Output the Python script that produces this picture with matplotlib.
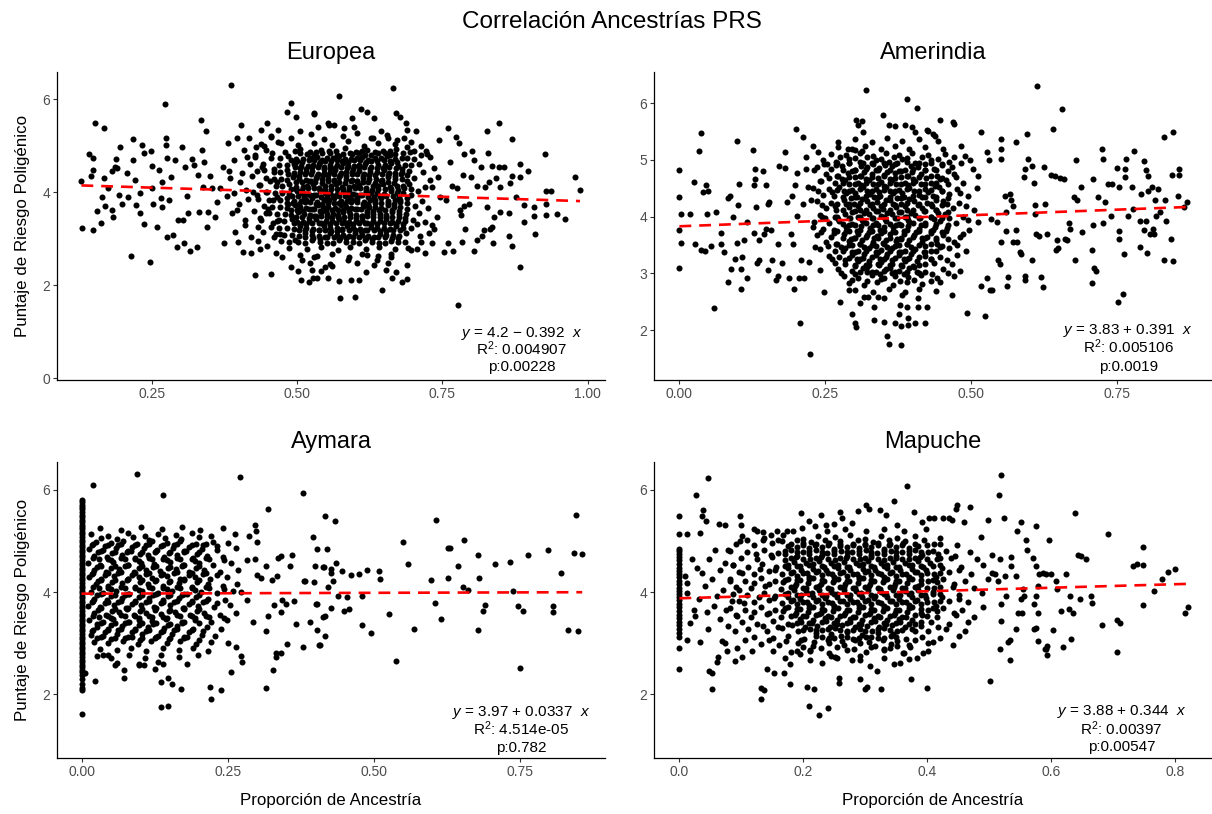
import matplotlib.pyplot as plt
import numpy as np

plt.rcParams['font.family'] = ['Liberation Sans', 'DejaVu Sans']
plt.rcParams['mathtext.fontset'] = 'custom'
plt.rcParams['mathtext.rm'] = 'Liberation Sans'
plt.rcParams['mathtext.it'] = 'Liberation Sans:italic'

# ---- datos ----
titulos = ['Europea', 'Amerindia', 'Aymara', 'Mapuche']
intercepto = [4.2, 3.83, 3.97, 3.88]
pendiente = [-0.392, 0.391, 0.0337, 0.344]
ecuaciones = ['$y$ = 4.2 \u2212 0.392  $x$', '$y$ = 3.83 + 0.391  $x$',
              '$y$ = 3.97 + 0.0337  $x$', '$y$ = 3.88 + 0.344  $x$']
r2_txt = ['0.004907', '0.005106', '4.514e-05', '0.00397']
p_txt = ['0.00228', '0.0019', '0.782', '0.00547']

xticks = [[0.25, 0.5, 0.75, 1.0], [0.0, 0.25, 0.5, 0.75], [0.0, 0.25, 0.5, 0.75], [0.0, 0.2, 0.4, 0.6, 0.8]]
xticklabels = [['0.25', '0.50', '0.75', '1.00'], ['0.00', '0.25', '0.50', '0.75'],
               ['0.00', '0.25', '0.50', '0.75'], ['0.0', '0.2', '0.4', '0.6', '0.8']]
yticks = [[0, 2, 4, 6], [2, 3, 4, 5, 6], [2, 4, 6], [2, 4, 6]]
xlims = [(0.087, 1.030), (-0.0435, 0.912), (-0.042, 0.895), (-0.041, 0.860)]
ylims = [(-0.037, 6.59), (1.12, 6.55), (0.747, 6.554), (0.747, 6.554)]

europea = [
    (0.129, 4.25), (0.130, 3.24), (0.142, 4.83), (0.146, 4.36), (0.149, 4.73), (0.149, 4.48), (0.153, 5.50),
    (0.149, 3.20), (0.156, 3.61), (0.162, 3.35), (0.165, 3.91), (0.168, 5.39), (0.168, 4.30), (0.169, 3.71),
    (0.175, 4.10), (0.181, 4.45), (0.182, 3.62), (0.184, 3.48), (0.186, 4.55), (0.189, 4.71), (0.191, 4.52),
    (0.193, 3.94), (0.196, 4.97), (0.198, 3.76), (0.207, 4.41), (0.210, 3.91), (0.215, 2.63), (0.218, 5.14),
    (0.217, 4.70), (0.221, 4.27), (0.223, 3.73), (0.229, 3.99), (0.229, 3.55), (0.234, 5.02), (0.236, 4.84),
    (0.236, 3.33), (0.247, 2.50), (0.248, 4.88), (0.250, 4.57), (0.250, 4.09), (0.252, 3.76), (0.259, 3.26),
    (0.263, 4.48), (0.266, 3.87), (0.268, 4.23), (0.268, 3.69), (0.273, 5.90), (0.274, 5.18), (0.274, 5.02),
    (0.276, 4.73), (0.276, 3.04), (0.279, 3.83), (0.283, 4.34), (0.286, 3.08), (0.290, 4.70), (0.293, 2.83),
    (0.296, 3.40), (0.302, 4.98), (0.304, 3.40), (0.305, 2.90), (0.308, 4.55), (0.310, 3.92), (0.313, 3.55),
    (0.316, 2.74), (0.319, 4.71), (0.322, 4.59), (0.328, 2.83), (0.329, 4.37), (0.331, 3.58), (0.335, 5.56),
    (0.336, 4.91), (0.338, 4.11), (0.340, 4.66), (0.344, 5.31), (0.345, 3.26), (0.347, 3.58), (0.350, 4.35),
    (0.354, 4.09), (0.359, 3.48), (0.362, 3.80), (0.368, 4.09), (0.372, 4.55), (0.374, 2.90), (0.380, 3.92),
    (0.382, 5.06), (0.385, 4.30), (0.387, 6.32), (0.388, 3.55), (0.391, 4.70), (0.394, 3.15), (0.397, 5.16),
    (0.398, 2.94), (0.401, 3.76), (0.404, 5.44), (0.405, 4.41), (0.407, 2.72), (0.411, 3.40), (0.414, 4.77),
    (0.417, 5.18), (0.420, 2.69), (0.424, 4.01), (0.428, 2.22), (0.430, 4.98), (0.433, 3.26), (0.436, 2.79),
    (0.438, 5.34), (0.443, 4.48), (0.446, 3.55), (0.449, 5.49), (0.452, 3.83), (0.456, 2.25), (0.457, 4.84),
    (0.460, 3.04), (0.465, 4.23), (0.469, 3.40), (0.472, 5.06), (0.475, 2.61), (0.482, 5.72), (0.484, 3.76),
    (0.489, 5.92), (0.489, 2.40), (0.494, 4.62), (0.496, 2.97), (0.498, 5.63), (0.502, 2.31), (0.505, 5.31),
    (0.509, 2.54), (0.521, 2.08), (0.526, 2.33), (0.529, 5.70), (0.534, 2.15), (0.536, 5.41), (0.549, 2.40),
    (0.555, 5.45),
    (0.383, 4.45), (0.392, 3.98), (0.396, 3.62), (0.402, 4.22), (0.408, 4.92), (0.410, 3.30), (0.413, 4.05),
    (0.416, 3.85), (0.419, 4.60), (0.421, 3.05), (0.423, 4.35), (0.426, 3.60), (0.428, 4.80), (0.431, 3.95),
    (0.433, 2.95), (0.435, 4.15), (0.437, 3.45), (0.439, 4.55), (0.441, 3.15), (0.444, 5.00), (0.446, 4.00),
    (0.448, 2.85), (0.450, 3.65), (0.453, 4.25), (0.456, 5.20), (0.458, 3.35), (0.461, 4.50), (0.463, 2.70),
    (0.466, 3.90), (0.468, 5.35), (0.470, 3.10),
    (0.573, 6.08), (0.666, 6.24), (0.610, 5.79), (0.621, 5.72), (0.595, 5.59), (0.633, 5.59), (0.670, 5.70),
    (0.678, 5.63), (0.687, 5.50), (0.690, 5.34), (0.704, 5.33), (0.759, 5.39), (0.847, 5.49), (0.827, 5.33),
    (0.773, 5.20), (0.744, 5.13), (0.779, 5.06), (0.801, 4.88), (0.787, 4.82), (0.828, 4.84), (0.870, 5.15),
    (0.926, 4.83), (0.816, 4.54), (0.836, 4.57), (0.847, 4.55), (0.856, 4.55), (0.883, 4.61), (0.804, 4.70),
    (0.764, 4.66), (0.786, 4.37), (0.799, 4.34), (0.831, 4.23), (0.843, 4.30), (0.870, 4.35), (0.884, 4.34),
    (0.898, 4.45), (0.979, 4.34), (0.987, 4.05), (0.929, 4.04), (0.937, 4.04), (0.824, 4.12), (0.810, 4.14),
    (0.775, 4.09), (0.767, 4.14), (0.850, 4.12), (0.866, 4.21), (0.876, 3.91), (0.890, 3.73), (0.907, 3.69),
    (0.929, 3.76), (0.947, 3.53), (0.962, 3.42), (0.928, 3.51), (0.907, 3.49), (0.891, 3.36), (0.864, 3.55),
    (0.850, 3.58), (0.839, 3.48), (0.827, 3.69), (0.787, 3.71), (0.780, 3.62), (0.783, 3.51), (0.756, 3.83),
    (0.746, 3.91), (0.796, 3.76), (0.910, 3.10), (0.864, 3.07), (0.819, 3.06), (0.832, 3.22), (0.836, 3.26),
    (0.822, 3.19), (0.789, 3.22), (0.759, 2.92), (0.784, 2.94), (0.804, 2.74), (0.838, 2.90), (0.870, 2.84),
    (0.810, 2.97), (0.753, 2.72), (0.769, 2.74), (0.721, 2.69), (0.884, 2.40), (0.777, 1.57), (0.736, 3.22),
    (0.733, 2.90),
    (0.574, 1.73), (0.600, 1.75), (0.647, 1.90), (0.527, 2.15), (0.507, 2.11), (0.553, 2.15), (0.593, 2.11),
    (0.607, 2.11), (0.573, 2.09), (0.664, 2.15), (0.681, 2.08), (0.690, 2.13), (0.670, 2.29), (0.638, 2.54),
    (0.587, 2.54), (0.561, 2.41), (0.530, 2.61), (0.696, 2.76), (0.706, 2.79), (0.690, 2.43), (0.656, 2.47),
    (0.621, 2.65), (0.661, 2.61),
    (0.530, 5.69), (0.553, 5.49), (0.564, 5.45), (0.581, 5.38), (0.598, 5.41), (0.644, 5.31), (0.656, 5.16),
    (0.627, 5.16), (0.672, 5.13), (0.690, 4.98), (0.701, 4.88), (0.713, 4.80), (0.724, 4.82), (0.736, 4.52),
    (0.742, 4.34), (0.733, 4.12), (0.741, 3.48), (0.733, 3.30), (0.727, 3.12), (0.713, 2.94), (0.707, 3.33),
    # nucleo denso
    (0.455, 5.22), (0.490, 5.17), (0.524, 5.25), (0.546, 5.15), (0.579, 5.21), (0.603, 5.27), (0.631, 5.18),
    (0.655, 5.23), (0.684, 5.16),
    (0.438, 5.04), (0.467, 5.09), (0.502, 5.01), (0.529, 5.07), (0.561, 5.03), (0.587, 5.10), (0.616, 5.00),
    (0.639, 5.06), (0.668, 5.04), (0.697, 5.08), (0.713, 4.99),
    (0.447, 4.92), (0.479, 4.87), (0.506, 4.93), (0.523, 4.86), (0.542, 4.91), (0.567, 4.88), (0.582, 4.95),
    (0.602, 4.86), (0.621, 4.92), (0.648, 4.89), (0.671, 4.93), (0.694, 4.86), (0.722, 4.90),
    (0.428, 4.76), (0.456, 4.73), (0.485, 4.78), (0.511, 4.72), (0.534, 4.77), (0.551, 4.74), (0.572, 4.79),
    (0.593, 4.71), (0.612, 4.76), (0.634, 4.73), (0.655, 4.78), (0.680, 4.74), (0.702, 4.71), (0.729, 4.77),
    (0.441, 4.62), (0.469, 4.58), (0.496, 4.63), (0.519, 4.57), (0.538, 4.61), (0.557, 4.59), (0.579, 4.64),
    (0.598, 4.57), (0.617, 4.62), (0.640, 4.58), (0.662, 4.63), (0.685, 4.59), (0.710, 4.61),
    (0.432, 4.46), (0.460, 4.43), (0.482, 4.48), (0.506, 4.44), (0.525, 4.47), (0.547, 4.42), (0.566, 4.48),
    (0.584, 4.43), (0.607, 4.47), (0.625, 4.44), (0.649, 4.48), (0.668, 4.42), (0.693, 4.46), (0.717, 4.44),
    (0.446, 4.31), (0.473, 4.28), (0.493, 4.33), (0.515, 4.27), (0.533, 4.32), (0.554, 4.29), (0.573, 4.34),
    (0.594, 4.27), (0.613, 4.31), (0.636, 4.28), (0.656, 4.33), (0.680, 4.29), (0.702, 4.31), (0.728, 4.27),
    (0.437, 4.16), (0.463, 4.13), (0.487, 4.18), (0.510, 4.12), (0.527, 4.17), (0.549, 4.14), (0.567, 4.18),
    (0.589, 4.12), (0.607, 4.16), (0.630, 4.13), (0.648, 4.18), (0.672, 4.14), (0.693, 4.17), (0.720, 4.12),
    (0.449, 4.01), (0.475, 3.98), (0.500, 4.03), (0.518, 3.97), (0.540, 4.02), (0.557, 3.99), (0.579, 4.03),
    (0.597, 3.97), (0.619, 4.01), (0.638, 3.98), (0.662, 4.03), (0.683, 3.99), (0.709, 4.02),
    (0.433, 3.86), (0.459, 3.83), (0.483, 3.88), (0.507, 3.82), (0.525, 3.87), (0.546, 3.84), (0.564, 3.88),
    (0.586, 3.82), (0.604, 3.86), (0.626, 3.83), (0.645, 3.87), (0.668, 3.84), (0.689, 3.88), (0.715, 3.82),
    (0.444, 3.71), (0.470, 3.68), (0.497, 3.73), (0.515, 3.67), (0.536, 3.72), (0.554, 3.69), (0.576, 3.73),
    (0.593, 3.67), (0.615, 3.71), (0.634, 3.68), (0.657, 3.73), (0.677, 3.69), (0.703, 3.71), (0.725, 3.67),
    (0.452, 3.56), (0.480, 3.53), (0.501, 3.58), (0.523, 3.52), (0.541, 3.57), (0.562, 3.54), (0.580, 3.58),
    (0.602, 3.52), (0.620, 3.56), (0.643, 3.53), (0.663, 3.58), (0.688, 3.54), (0.710, 3.56),
    (0.438, 3.41), (0.465, 3.38), (0.491, 3.43), (0.510, 3.37), (0.532, 3.42), (0.550, 3.39), (0.572, 3.43),
    (0.590, 3.37), (0.612, 3.41), (0.631, 3.38), (0.654, 3.43), (0.674, 3.39), (0.699, 3.41), (0.721, 3.37),
    (0.455, 3.26), (0.483, 3.23), (0.505, 3.28), (0.528, 3.22), (0.546, 3.27), (0.568, 3.24), (0.586, 3.28),
    (0.608, 3.22), (0.627, 3.26), (0.650, 3.23), (0.670, 3.28), (0.696, 3.24),
    (0.463, 3.11), (0.492, 3.08), (0.514, 3.13), (0.538, 3.07), (0.557, 3.12), (0.580, 3.09), (0.599, 3.13),
    (0.622, 3.07), (0.642, 3.11), (0.666, 3.08), (0.687, 3.12), (0.711, 3.06),
    (0.472, 2.96), (0.502, 2.93), (0.526, 2.98), (0.552, 2.92), (0.573, 2.97), (0.597, 2.94), (0.617, 2.98),
    (0.641, 2.92), (0.662, 2.96), (0.686, 2.93),
    (0.486, 2.81), (0.517, 2.78), (0.542, 2.83), (0.570, 2.77), (0.592, 2.82), (0.618, 2.79), (0.641, 2.83),
    (0.668, 2.78), (0.691, 2.81),
    (0.505, 2.66), (0.535, 2.63), (0.561, 2.68), (0.589, 2.62), (0.612, 2.67), (0.639, 2.64), (0.661, 2.68),
    (0.522, 2.49), (0.557, 2.46), (0.603, 2.47), (0.632, 2.44), (0.541, 2.31), (0.618, 2.28), (0.653, 2.33),
    (0.505, 4.84), (0.530, 4.81), (0.556, 4.85), (0.580, 4.82), (0.607, 4.84), (0.628, 4.81), (0.652, 4.85),
    (0.668, 4.82),
    (0.490, 4.69), (0.509, 4.66), (0.530, 4.70), (0.548, 4.67), (0.568, 4.69), (0.588, 4.66), (0.608, 4.70),
    (0.628, 4.67), (0.649, 4.69), (0.672, 4.66),
    (0.496, 4.54), (0.516, 4.51), (0.536, 4.55), (0.556, 4.52), (0.576, 4.54), (0.596, 4.51), (0.616, 4.55),
    (0.637, 4.52), (0.659, 4.54), (0.681, 4.51),
    (0.484, 4.39), (0.504, 4.36), (0.524, 4.40), (0.544, 4.37), (0.564, 4.39), (0.584, 4.36), (0.604, 4.40),
    (0.624, 4.37), (0.646, 4.39), (0.668, 4.36), (0.690, 4.38),
    (0.498, 4.22), (0.520, 4.25), (0.543, 4.21), (0.563, 4.24), (0.583, 4.21), (0.603, 4.25), (0.623, 4.22),
    (0.645, 4.24), (0.667, 4.21),
    (0.489, 4.08), (0.509, 4.05), (0.529, 4.09), (0.549, 4.06), (0.569, 4.08), (0.589, 4.05), (0.609, 4.09),
    (0.629, 4.06), (0.651, 4.08), (0.673, 4.05), (0.696, 4.08),
    (0.492, 3.93), (0.512, 3.90), (0.532, 3.94), (0.552, 3.91), (0.572, 3.93), (0.592, 3.90), (0.612, 3.94),
    (0.632, 3.91), (0.654, 3.93), (0.676, 3.90),
    (0.483, 3.78), (0.503, 3.75), (0.523, 3.79), (0.543, 3.76), (0.563, 3.78), (0.583, 3.75), (0.603, 3.79),
    (0.623, 3.76), (0.645, 3.78), (0.667, 3.75), (0.690, 3.78),
    (0.490, 3.63), (0.510, 3.60), (0.530, 3.64), (0.550, 3.61), (0.570, 3.63), (0.590, 3.60), (0.610, 3.64),
    (0.630, 3.61), (0.652, 3.63), (0.675, 3.60),
    (0.498, 3.48), (0.520, 3.45), (0.541, 3.49), (0.561, 3.46), (0.581, 3.48), (0.601, 3.45), (0.621, 3.49),
    (0.642, 3.46), (0.664, 3.48), (0.686, 3.45),
    (0.494, 3.34), (0.516, 3.31), (0.537, 3.35), (0.557, 3.32), (0.577, 3.34), (0.597, 3.31), (0.617, 3.35),
    (0.638, 3.32), (0.660, 3.34), (0.683, 3.31),
    (0.503, 3.19), (0.526, 3.16), (0.548, 3.20), (0.568, 3.17), (0.589, 3.19), (0.610, 3.16), (0.632, 3.20),
    (0.654, 3.17), (0.677, 3.19),
    (0.514, 3.03), (0.540, 3.00), (0.563, 3.04), (0.585, 3.01), (0.607, 3.03), (0.629, 3.00), (0.652, 3.04),
    (0.674, 3.01),
]

europea_extra = [
    (0.497, 4.88), (0.532, 4.86), (0.555, 4.89), (0.592, 4.85), (0.612, 4.88), (0.635, 4.86), (0.660, 4.89),
    (0.683, 4.85),
    (0.470, 4.73), (0.498, 4.71), (0.522, 4.74), (0.543, 4.70), (0.562, 4.73), (0.583, 4.71), (0.603, 4.74),
    (0.623, 4.70), (0.645, 4.73), (0.668, 4.71), (0.690, 4.74),
    (0.483, 4.58), (0.507, 4.56), (0.528, 4.59), (0.547, 4.55), (0.568, 4.58), (0.588, 4.56), (0.607, 4.59),
    (0.628, 4.55), (0.651, 4.58), (0.673, 4.56), (0.697, 4.59),
    (0.471, 4.43), (0.494, 4.41), (0.515, 4.44), (0.536, 4.40), (0.556, 4.43), (0.575, 4.41), (0.595, 4.44),
    (0.616, 4.40), (0.637, 4.43), (0.658, 4.41), (0.680, 4.44),
    (0.460, 4.28), (0.483, 4.26), (0.504, 4.29), (0.524, 4.25), (0.543, 4.28), (0.563, 4.26), (0.584, 4.29),
    (0.603, 4.25), (0.624, 4.28), (0.646, 4.26), (0.668, 4.29), (0.690, 4.25),
    (0.475, 4.13), (0.498, 4.11), (0.518, 4.14), (0.538, 4.10), (0.558, 4.13), (0.578, 4.11), (0.598, 4.14),
    (0.618, 4.10), (0.639, 4.13), (0.660, 4.11), (0.682, 4.14),
    (0.462, 3.98), (0.487, 3.96), (0.509, 3.99), (0.529, 3.95), (0.548, 3.98), (0.568, 3.96), (0.588, 3.99),
    (0.608, 3.95), (0.628, 3.98), (0.650, 3.96), (0.672, 3.99), (0.696, 3.95),
    (0.471, 3.83), (0.495, 3.81), (0.516, 3.84), (0.535, 3.80), (0.555, 3.83), (0.575, 3.81), (0.595, 3.84),
    (0.615, 3.80), (0.635, 3.83), (0.656, 3.81), (0.678, 3.84),
    (0.457, 3.68), (0.483, 3.66), (0.506, 3.69), (0.525, 3.65), (0.545, 3.68), (0.565, 3.66), (0.584, 3.69),
    (0.604, 3.65), (0.624, 3.68), (0.645, 3.66), (0.667, 3.69), (0.690, 3.65),
    (0.466, 3.53), (0.490, 3.51), (0.512, 3.54), (0.532, 3.50), (0.551, 3.53), (0.571, 3.51), (0.591, 3.54),
    (0.611, 3.50), (0.631, 3.53), (0.653, 3.51), (0.675, 3.54),
    (0.478, 3.38), (0.500, 3.36), (0.521, 3.39), (0.541, 3.35), (0.561, 3.38), (0.581, 3.36), (0.601, 3.39),
    (0.621, 3.35), (0.642, 3.38), (0.664, 3.36), (0.686, 3.39),
    (0.469, 3.23), (0.494, 3.21), (0.516, 3.24), (0.537, 3.20), (0.557, 3.23), (0.577, 3.21), (0.597, 3.24),
    (0.617, 3.20), (0.638, 3.23), (0.660, 3.21), (0.683, 3.24),
    (0.478, 3.08), (0.503, 3.06), (0.526, 3.09), (0.548, 3.05), (0.569, 3.08), (0.590, 3.06), (0.611, 3.09),
    (0.632, 3.05), (0.654, 3.08), (0.676, 3.06),
    (0.487, 2.93), (0.514, 2.91), (0.539, 2.94), (0.562, 2.90), (0.585, 2.93), (0.607, 2.91), (0.629, 2.94),
    (0.652, 2.90), (0.674, 2.93),
]

europea_centro = [
    (0.518, 4.82), (0.543, 4.84), (0.568, 4.81), (0.594, 4.83), (0.617, 4.81), (0.640, 4.84), (0.660, 4.81),
    (0.500, 4.67), (0.520, 4.69), (0.539, 4.66), (0.558, 4.68), (0.578, 4.67), (0.598, 4.69), (0.618, 4.66),
    (0.638, 4.68), (0.660, 4.67),
    (0.506, 4.52), (0.526, 4.54), (0.546, 4.51), (0.566, 4.53), (0.586, 4.52), (0.606, 4.54), (0.626, 4.51),
    (0.648, 4.53), (0.670, 4.52),
    (0.494, 4.37), (0.514, 4.39), (0.534, 4.36), (0.554, 4.38), (0.574, 4.37), (0.594, 4.39), (0.614, 4.36),
    (0.635, 4.38), (0.657, 4.37), (0.679, 4.39),
    (0.509, 4.23), (0.531, 4.22), (0.553, 4.24), (0.573, 4.22), (0.593, 4.24), (0.613, 4.23), (0.634, 4.21),
    (0.656, 4.23),
    (0.499, 4.07), (0.519, 4.09), (0.539, 4.06), (0.559, 4.08), (0.579, 4.07), (0.599, 4.09), (0.619, 4.06),
    (0.640, 4.08), (0.662, 4.07), (0.684, 4.09),
    (0.502, 3.92), (0.522, 3.94), (0.542, 3.91), (0.562, 3.93), (0.582, 3.92), (0.602, 3.94), (0.622, 3.91),
    (0.643, 3.93), (0.665, 3.92),
    (0.493, 3.77), (0.513, 3.79), (0.533, 3.76), (0.553, 3.78), (0.573, 3.77), (0.593, 3.79), (0.613, 3.76),
    (0.634, 3.78), (0.656, 3.77), (0.678, 3.79),
    (0.500, 3.62), (0.520, 3.64), (0.540, 3.61), (0.560, 3.63), (0.580, 3.62), (0.600, 3.64), (0.620, 3.61),
    (0.641, 3.63), (0.663, 3.62),
    (0.509, 3.47), (0.530, 3.49), (0.551, 3.46), (0.571, 3.48), (0.591, 3.47), (0.611, 3.49), (0.631, 3.46),
    (0.653, 3.48), (0.675, 3.47),
    (0.505, 3.33), (0.526, 3.35), (0.547, 3.32), (0.567, 3.34), (0.587, 3.33), (0.607, 3.35), (0.627, 3.32),
    (0.649, 3.34), (0.671, 3.33),
    (0.514, 3.18), (0.537, 3.20), (0.558, 3.17), (0.578, 3.19), (0.599, 3.18), (0.621, 3.20), (0.643, 3.17),
    (0.665, 3.19),
    (0.527, 3.02), (0.551, 3.04), (0.574, 3.01), (0.596, 3.03), (0.618, 3.02), (0.640, 3.04), (0.663, 3.01),
]

amerindia = [
    (0.000, 4.83), (0.000, 4.35), (0.002, 4.05), (0.000, 3.76), (0.002, 3.54), (0.000, 3.09), (0.018, 4.04),
    (0.025, 4.61), (0.027, 3.51), (0.033, 5.16), (0.037, 5.48), (0.037, 3.42), (0.041, 4.43), (0.044, 3.39),
    (0.045, 4.56), (0.047, 4.04), (0.049, 4.45), (0.054, 3.48), (0.059, 2.39), (0.063, 4.09), (0.071, 3.72),
    (0.072, 3.51), (0.076, 3.37), (0.083, 4.33), (0.084, 2.85), (0.087, 4.36), (0.088, 3.07), (0.091, 3.99),
    (0.096, 3.25), (0.099, 5.33), (0.099, 3.54), (0.101, 4.20), (0.102, 4.57), (0.105, 2.73), (0.105, 3.07),
    (0.107, 3.29), (0.111, 3.58), (0.116, 3.90), (0.116, 2.92), (0.126, 5.18), (0.128, 3.71), (0.130, 4.84),
    (0.130, 4.67), (0.128, 4.55), (0.132, 4.17), (0.133, 3.18), (0.136, 3.23), (0.136, 3.58), (0.143, 4.80),
    (0.145, 3.69), (0.148, 4.55), (0.148, 3.79), (0.151, 3.06), (0.152, 4.22), (0.153, 4.26), (0.156, 3.76),
    (0.159, 3.23), (0.165, 2.88), (0.168, 2.95), (0.170, 4.89), (0.169, 3.52), (0.176, 3.18), (0.180, 5.14),
    (0.181, 4.86), (0.185, 4.26), (0.188, 2.92), (0.191, 3.70), (0.192, 4.36), (0.194, 3.52), (0.197, 2.73),
    (0.198, 4.55), (0.199, 5.55), (0.201, 4.77), (0.202, 4.02), (0.204, 2.92), (0.207, 2.13), (0.208, 3.23),
    (0.211, 5.40), (0.212, 4.22), (0.214, 2.91), (0.216, 4.84), (0.217, 5.05), (0.220, 4.52), (0.222, 3.20),
    (0.224, 1.58), (0.225, 4.29), (0.228, 5.24), (0.229, 3.82), (0.231, 4.83), (0.233, 3.47), (0.237, 5.14),
    (0.240, 3.06), (0.243, 4.63), (0.245, 3.99), (0.248, 2.67), (0.252, 4.92),
    (0.612, 6.31), (0.655, 5.90), (0.639, 5.55), (0.595, 5.45), (0.577, 5.31), (0.551, 5.37), (0.516, 5.49),
    (0.550, 5.20), (0.550, 5.02), (0.527, 5.14), (0.530, 4.99), (0.723, 5.20), (0.726, 5.01), (0.679, 4.99),
    (0.779, 5.15), (0.830, 5.40), (0.846, 5.50), (0.856, 4.84), (0.855, 4.73), (0.843, 4.74), (0.765, 5.01),
    (0.763, 4.84), (0.763, 4.70), (0.749, 4.86), (0.796, 4.98), (0.799, 4.82), (0.803, 4.71), (0.597, 5.01),
    (0.591, 4.84), (0.603, 4.90), (0.625, 4.87), (0.637, 4.73), (0.644, 4.71), (0.651, 4.69), (0.658, 4.66),
    (0.608, 4.60), (0.590, 4.70), (0.709, 4.67), (0.688, 4.53), (0.734, 4.57), (0.740, 4.58), (0.752, 4.53),
    (0.775, 4.53), (0.791, 4.40), (0.802, 4.46), (0.810, 4.52), (0.819, 4.49), (0.815, 4.30), (0.831, 4.30),
    (0.853, 4.36), (0.869, 4.25), (0.864, 4.17), (0.823, 4.08), (0.816, 4.02), (0.833, 3.92), (0.811, 3.79),
    (0.805, 3.70), (0.813, 3.70), (0.841, 3.61), (0.830, 3.24), (0.846, 3.21), (0.801, 3.36), (0.788, 3.47),
    (0.795, 3.77), (0.789, 3.92), (0.799, 3.92), (0.777, 4.14), (0.768, 4.02), (0.753, 3.75), (0.753, 3.61),
    (0.762, 3.34), (0.739, 4.01), (0.728, 4.26), (0.726, 3.88), (0.717, 4.35), (0.708, 3.85), (0.706, 3.42),
    (0.710, 3.10), (0.714, 3.04), (0.707, 2.83), (0.751, 2.50), (0.759, 2.63), (0.690, 3.73), (0.677, 3.24),
    (0.681, 4.29), (0.675, 4.35), (0.669, 3.79), (0.663, 3.58), (0.645, 3.42), (0.649, 3.44), (0.660, 3.60),
    (0.667, 3.89), (0.646, 3.58), (0.626, 4.22), (0.629, 3.70), (0.615, 3.65), (0.611, 3.69), (0.619, 2.93),
    (0.623, 2.76), (0.609, 4.20), (0.609, 4.05), (0.603, 3.24), (0.591, 2.95), (0.591, 2.88), (0.584, 3.38),
    (0.585, 3.34), (0.578, 3.55), (0.577, 3.76), (0.571, 3.55), (0.566, 4.40), (0.568, 4.29), (0.572, 4.18),
    (0.558, 4.36), (0.560, 4.08), (0.560, 3.75), (0.562, 2.94), (0.561, 2.77), (0.550, 3.55), (0.549, 3.17),
    (0.545, 3.24), (0.543, 3.91), (0.534, 3.95), (0.536, 2.70), (0.532, 2.70), (0.523, 2.25), (0.492, 2.30),
    (0.466, 2.62), (0.516, 2.77), (0.527, 2.91),
    (0.300, 2.12), (0.303, 2.06), (0.295, 2.28), (0.334, 2.18), (0.351, 2.15), (0.356, 1.89), (0.359, 1.75),
    (0.379, 1.74), (0.369, 2.12), (0.379, 2.07), (0.392, 2.21), (0.404, 2.12), (0.420, 2.13), (0.392, 2.09),
    (0.389, 2.41), (0.409, 2.40), (0.424, 2.41), (0.377, 2.44), (0.376, 2.29), (0.334, 2.41), (0.309, 2.47),
    (0.291, 2.70), (0.275, 2.49), (0.340, 2.59), (0.323, 2.59),
    (0.320, 6.23), (0.389, 6.08), (0.406, 5.92), (0.348, 5.79), (0.359, 5.61), (0.369, 5.59), (0.303, 5.71),
    (0.313, 5.68), (0.306, 5.61), (0.314, 5.49), (0.272, 5.31), (0.289, 5.20), (0.300, 5.17), (0.312, 5.16),
    (0.386, 5.61), (0.398, 5.58), (0.404, 5.49), (0.424, 5.52), (0.435, 5.46), (0.447, 5.71), (0.469, 5.67),
    (0.470, 5.63), (0.425, 5.51), (0.438, 5.43),
    # nucleo denso
    (0.301, 5.36), (0.329, 5.32), (0.356, 5.38), (0.382, 5.33), (0.410, 5.37), (0.443, 5.34),
    (0.271, 5.23), (0.296, 5.19), (0.318, 5.25), (0.346, 5.20), (0.369, 5.24), (0.394, 5.19), (0.421, 5.23),
    (0.451, 5.20), (0.482, 5.24),
    (0.259, 5.11), (0.286, 5.08), (0.309, 5.13), (0.331, 5.07), (0.354, 5.12), (0.376, 5.09), (0.399, 5.13),
    (0.426, 5.08), (0.454, 5.11), (0.489, 5.07),
    (0.246, 4.99), (0.268, 4.96), (0.291, 5.01), (0.314, 4.95), (0.336, 5.00), (0.359, 4.97), (0.381, 5.01),
    (0.404, 4.95), (0.431, 4.99), (0.461, 4.96), (0.498, 5.00),
    (0.236, 4.87), (0.259, 4.84), (0.279, 4.89), (0.301, 4.83), (0.321, 4.88), (0.341, 4.85), (0.364, 4.89),
    (0.386, 4.83), (0.409, 4.87), (0.436, 4.84), (0.466, 4.88), (0.503, 4.84),
    (0.251, 4.75), (0.271, 4.72), (0.289, 4.77), (0.311, 4.71), (0.329, 4.76), (0.351, 4.73), (0.369, 4.77),
    (0.391, 4.71), (0.414, 4.75), (0.441, 4.72), (0.471, 4.76), (0.512, 4.72),
    (0.241, 4.63), (0.266, 4.60), (0.284, 4.65), (0.306, 4.59), (0.324, 4.64), (0.346, 4.61), (0.364, 4.65),
    (0.386, 4.59), (0.404, 4.63), (0.431, 4.60), (0.456, 4.64), (0.486, 4.60),
    (0.229, 4.51), (0.256, 4.48), (0.274, 4.53), (0.296, 4.47), (0.314, 4.52), (0.336, 4.49), (0.354, 4.53),
    (0.376, 4.47), (0.394, 4.51), (0.421, 4.48), (0.444, 4.52), (0.476, 4.48), (0.509, 4.51),
    (0.246, 4.39), (0.264, 4.36), (0.286, 4.41), (0.304, 4.35), (0.326, 4.40), (0.344, 4.37), (0.366, 4.41),
    (0.384, 4.35), (0.411, 4.39), (0.434, 4.36), (0.461, 4.40), (0.494, 4.36),
    (0.236, 4.27), (0.259, 4.24), (0.281, 4.29), (0.299, 4.23), (0.321, 4.28), (0.339, 4.25), (0.361, 4.29),
    (0.379, 4.23), (0.401, 4.27), (0.424, 4.24), (0.451, 4.28), (0.479, 4.24),
    (0.251, 4.15), (0.269, 4.12), (0.291, 4.17), (0.309, 4.11), (0.331, 4.16), (0.349, 4.13), (0.371, 4.17),
    (0.389, 4.11), (0.416, 4.15), (0.439, 4.12), (0.469, 4.16), (0.504, 4.12),
    (0.241, 4.03), (0.266, 4.00), (0.284, 4.05), (0.306, 3.99), (0.324, 4.04), (0.346, 4.01), (0.364, 4.05),
    (0.386, 3.99), (0.404, 4.03), (0.431, 4.00), (0.454, 4.04), (0.486, 4.00),
    (0.231, 3.91), (0.256, 3.88), (0.274, 3.93), (0.296, 3.87), (0.314, 3.92), (0.336, 3.89), (0.354, 3.93),
    (0.376, 3.87), (0.394, 3.91), (0.421, 3.88), (0.446, 3.92), (0.474, 3.88), (0.511, 3.91),
    (0.246, 3.79), (0.264, 3.76), (0.286, 3.81), (0.304, 3.75), (0.326, 3.80), (0.344, 3.77), (0.366, 3.81),
    (0.384, 3.75), (0.411, 3.79), (0.434, 3.76), (0.459, 3.80), (0.496, 3.76),
    (0.236, 3.67), (0.259, 3.64), (0.281, 3.69), (0.299, 3.63), (0.321, 3.68), (0.339, 3.65), (0.361, 3.69),
    (0.379, 3.63), (0.401, 3.67), (0.424, 3.64), (0.451, 3.68), (0.481, 3.64),
    (0.251, 3.55), (0.269, 3.52), (0.291, 3.57), (0.309, 3.51), (0.331, 3.56), (0.349, 3.53), (0.371, 3.57),
    (0.389, 3.51), (0.416, 3.55), (0.441, 3.52), (0.471, 3.56),
    (0.241, 3.43), (0.266, 3.40), (0.284, 3.45), (0.306, 3.39), (0.324, 3.44), (0.346, 3.41), (0.364, 3.45),
    (0.386, 3.39), (0.404, 3.43), (0.431, 3.40), (0.461, 3.44), (0.491, 3.40),
    (0.256, 3.31), (0.274, 3.28), (0.296, 3.33), (0.314, 3.27), (0.336, 3.32), (0.354, 3.29), (0.376, 3.33),
    (0.394, 3.27), (0.421, 3.31), (0.446, 3.28), (0.476, 3.32),
    (0.266, 3.19), (0.284, 3.16), (0.306, 3.21), (0.324, 3.15), (0.346, 3.20), (0.364, 3.17), (0.386, 3.21),
    (0.411, 3.15), (0.436, 3.19), (0.466, 3.16),
    (0.271, 3.07), (0.296, 3.04), (0.314, 3.09), (0.336, 3.03), (0.354, 3.08), (0.376, 3.05), (0.394, 3.09),
    (0.421, 3.03), (0.451, 3.07), (0.481, 3.04),
    (0.281, 2.95), (0.306, 2.92), (0.329, 2.97), (0.351, 2.91), (0.369, 2.96), (0.391, 2.93), (0.414, 2.97),
    (0.441, 2.91), (0.471, 2.95),
    (0.291, 2.83), (0.316, 2.80), (0.339, 2.85), (0.366, 2.79), (0.389, 2.84), (0.416, 2.81), (0.446, 2.85),
    (0.301, 2.71), (0.331, 2.68), (0.359, 2.73), (0.386, 2.67), (0.411, 2.72), (0.439, 2.69),
    (0.316, 2.59), (0.351, 2.56), (0.381, 2.61), (0.409, 2.57),
    (0.296, 4.81), (0.316, 4.79), (0.336, 4.82), (0.356, 4.78), (0.376, 4.81), (0.398, 4.79), (0.420, 4.82),
    (0.291, 4.57), (0.311, 4.55), (0.331, 4.58), (0.351, 4.54), (0.371, 4.57), (0.391, 4.55), (0.413, 4.58),
    (0.437, 4.54),
    (0.293, 4.33), (0.313, 4.31), (0.333, 4.34), (0.353, 4.30), (0.373, 4.33), (0.393, 4.31), (0.415, 4.34),
    (0.439, 4.30),
    (0.296, 4.09), (0.316, 4.07), (0.336, 4.10), (0.356, 4.06), (0.376, 4.09), (0.396, 4.07), (0.418, 4.10),
    (0.442, 4.06),
    (0.291, 3.85), (0.311, 3.83), (0.331, 3.86), (0.351, 3.82), (0.371, 3.85), (0.391, 3.83), (0.413, 3.86),
    (0.437, 3.82),
    (0.293, 3.61), (0.313, 3.59), (0.333, 3.62), (0.353, 3.58), (0.373, 3.61), (0.393, 3.59), (0.415, 3.62),
    (0.439, 3.58),
    (0.296, 3.37), (0.316, 3.35), (0.336, 3.38), (0.356, 3.34), (0.376, 3.37), (0.396, 3.35), (0.418, 3.38),
    (0.301, 3.13), (0.321, 3.11), (0.341, 3.14), (0.361, 3.10), (0.381, 3.13), (0.401, 3.11),
]

amerindia_extra = [
    (0.275, 5.05), (0.300, 5.03), (0.322, 5.06), (0.345, 5.02), (0.368, 5.05), (0.390, 5.03), (0.415, 5.06),
    (0.442, 5.02), (0.470, 5.05),
    (0.248, 4.93), (0.269, 4.91), (0.290, 4.94), (0.311, 4.90), (0.331, 4.93), (0.352, 4.91), (0.373, 4.94),
    (0.396, 4.90), (0.420, 4.93), (0.450, 4.91), (0.482, 4.94),
    (0.256, 4.69), (0.279, 4.67), (0.300, 4.70), (0.320, 4.66), (0.340, 4.69), (0.360, 4.67), (0.380, 4.70),
    (0.400, 4.66), (0.422, 4.69), (0.446, 4.67), (0.474, 4.70),
    (0.238, 4.45), (0.261, 4.43), (0.281, 4.46), (0.301, 4.42), (0.321, 4.45), (0.341, 4.43), (0.361, 4.46),
    (0.381, 4.42), (0.402, 4.45), (0.425, 4.43), (0.450, 4.46), (0.480, 4.42),
    (0.244, 4.21), (0.266, 4.19), (0.286, 4.22), (0.306, 4.18), (0.326, 4.21), (0.346, 4.19), (0.366, 4.22),
    (0.386, 4.18), (0.408, 4.21), (0.432, 4.19), (0.458, 4.22), (0.490, 4.18),
    (0.250, 3.97), (0.272, 3.95), (0.292, 3.98), (0.312, 3.94), (0.332, 3.97), (0.352, 3.95), (0.372, 3.98),
    (0.392, 3.94), (0.412, 3.97), (0.436, 3.95), (0.462, 3.98), (0.495, 3.94),
    (0.242, 3.73), (0.265, 3.71), (0.285, 3.74), (0.305, 3.70), (0.325, 3.73), (0.345, 3.71), (0.365, 3.74),
    (0.385, 3.70), (0.405, 3.73), (0.430, 3.71), (0.456, 3.74), (0.486, 3.70),
    (0.255, 3.49), (0.276, 3.47), (0.296, 3.50), (0.316, 3.46), (0.336, 3.49), (0.356, 3.47), (0.376, 3.50),
    (0.396, 3.46), (0.420, 3.49), (0.446, 3.47), (0.476, 3.50),
    (0.262, 3.25), (0.284, 3.23), (0.304, 3.26), (0.324, 3.22), (0.344, 3.25), (0.364, 3.23), (0.384, 3.26),
    (0.406, 3.22), (0.430, 3.25), (0.458, 3.23),
    (0.276, 3.01), (0.300, 2.99), (0.322, 3.02), (0.344, 2.98), (0.364, 3.01), (0.384, 2.99), (0.406, 3.02),
    (0.432, 2.98), (0.460, 3.01),
    (0.296, 2.89), (0.322, 2.87), (0.346, 2.90), (0.378, 2.86), (0.402, 2.89), (0.430, 2.87),
]

amerindia_centro = [
    (0.270, 4.95), (0.290, 4.94), (0.310, 4.96), (0.330, 4.94), (0.350, 4.95), (0.370, 4.93), (0.390, 4.96),
    (0.410, 4.94), (0.430, 4.95), (0.450, 4.93),
    (0.280, 4.83), (0.300, 4.82), (0.320, 4.84), (0.340, 4.82), (0.360, 4.83), (0.380, 4.81), (0.400, 4.84),
    (0.420, 4.82), (0.440, 4.83), (0.460, 4.81),
    (0.270, 4.71), (0.290, 4.70), (0.310, 4.72), (0.330, 4.70), (0.350, 4.71), (0.370, 4.69), (0.390, 4.72),
    (0.410, 4.70), (0.430, 4.71), (0.450, 4.69),
    (0.280, 4.59), (0.300, 4.58), (0.320, 4.60), (0.340, 4.58), (0.360, 4.59), (0.380, 4.57), (0.400, 4.60),
    (0.420, 4.58), (0.440, 4.59), (0.460, 4.57),
    (0.270, 4.47), (0.290, 4.46), (0.310, 4.48), (0.330, 4.46), (0.350, 4.47), (0.370, 4.45), (0.390, 4.48),
    (0.410, 4.46), (0.430, 4.47), (0.450, 4.45),
    (0.280, 4.35), (0.300, 4.34), (0.320, 4.36), (0.340, 4.34), (0.360, 4.35), (0.380, 4.33), (0.400, 4.36),
    (0.420, 4.34), (0.440, 4.35), (0.460, 4.33),
    (0.270, 4.23), (0.290, 4.22), (0.310, 4.24), (0.330, 4.22), (0.350, 4.23), (0.370, 4.21), (0.390, 4.24),
    (0.410, 4.22), (0.430, 4.23), (0.450, 4.21),
    (0.280, 4.11), (0.300, 4.10), (0.320, 4.12), (0.340, 4.10), (0.360, 4.11), (0.380, 4.09), (0.400, 4.12),
    (0.420, 4.10), (0.440, 4.11), (0.460, 4.09),
    (0.270, 3.99), (0.290, 3.98), (0.310, 4.00), (0.330, 3.98), (0.350, 3.99), (0.370, 3.97), (0.390, 4.00),
    (0.410, 3.98), (0.430, 3.99), (0.450, 3.97),
    (0.280, 3.87), (0.300, 3.86), (0.320, 3.88), (0.340, 3.86), (0.360, 3.87), (0.380, 3.85), (0.400, 3.88),
    (0.420, 3.86), (0.440, 3.87), (0.460, 3.85),
    (0.270, 3.75), (0.290, 3.74), (0.310, 3.76), (0.330, 3.74), (0.350, 3.75), (0.370, 3.73), (0.390, 3.76),
    (0.410, 3.74), (0.430, 3.75), (0.450, 3.73),
    (0.280, 3.63), (0.300, 3.62), (0.320, 3.64), (0.340, 3.62), (0.360, 3.63), (0.380, 3.61), (0.400, 3.64),
    (0.420, 3.62), (0.440, 3.63), (0.460, 3.61),
    (0.270, 3.51), (0.290, 3.50), (0.310, 3.52), (0.330, 3.50), (0.350, 3.51), (0.370, 3.49), (0.390, 3.52),
    (0.410, 3.50), (0.430, 3.51), (0.450, 3.49),
    (0.280, 3.39), (0.300, 3.38), (0.320, 3.40), (0.340, 3.38), (0.360, 3.39), (0.380, 3.37), (0.400, 3.40),
    (0.420, 3.38), (0.440, 3.39),
    (0.290, 3.27), (0.310, 3.26), (0.330, 3.28), (0.350, 3.26), (0.370, 3.27), (0.390, 3.25), (0.410, 3.28),
    (0.430, 3.26),
    (0.300, 3.15), (0.320, 3.14), (0.340, 3.16), (0.360, 3.14), (0.380, 3.15), (0.400, 3.13), (0.420, 3.16),
    (0.310, 3.03), (0.330, 3.02), (0.350, 3.04), (0.370, 3.02), (0.390, 3.03), (0.410, 3.01),
]

# Aymara: columna de individuos con ancestria 0
aymara_y_en_cero = [
    5.80, 5.76, 5.71, 5.66, 5.62, 5.57, 5.52, 5.47, 5.42, 5.37, 5.32, 5.28, 5.23, 5.18, 5.13, 5.08, 5.03,
    4.98, 4.93, 4.88, 4.83, 4.78, 4.73, 4.68, 4.63, 4.58, 4.53, 4.48, 4.43, 4.38, 4.33, 4.28, 4.23, 4.18,
    4.13, 4.08, 4.03, 3.98, 3.93, 3.88, 3.83, 3.78, 3.73, 3.68, 3.63, 3.58, 3.53, 3.48, 3.43, 3.38, 3.33,
    3.28, 3.23, 3.18, 3.13, 3.08, 3.03, 2.98, 2.93, 2.88, 2.83, 2.78, 2.73, 2.68, 2.63, 2.58, 2.53, 2.48,
    2.43, 2.38, 2.30, 2.21, 2.12, 2.08, 1.61,
]

aymara = [
    (0.006, 2.42), (0.019, 6.09), (0.023, 2.27), (0.094, 6.32), (0.140, 5.91), (0.271, 6.25), (0.378, 5.94),
    (0.416, 5.50), (0.395, 5.08), (0.319, 5.63), (0.399, 4.52), (0.402, 4.85), (0.419, 4.84), (0.415, 4.49),
    (0.380, 4.21), (0.397, 4.20), (0.402, 3.77), (0.416, 3.53), (0.379, 2.92), (0.391, 3.41), (0.402, 3.25),
    (0.408, 2.96), (0.366, 3.38), (0.356, 4.52), (0.359, 4.72), (0.364, 3.82), (0.351, 2.99), (0.341, 2.81),
    (0.332, 2.81), (0.333, 2.73), (0.327, 2.47), (0.315, 2.12), (0.316, 3.23), (0.319, 3.54), (0.329, 3.74),
    (0.343, 3.84), (0.349, 3.77), (0.341, 3.61), (0.335, 4.31), (0.336, 4.67), (0.341, 4.70), (0.326, 4.23),
    (0.316, 4.51), (0.307, 4.27), (0.300, 4.34), (0.296, 4.65), (0.296, 5.31), (0.299, 5.19), (0.300, 4.99),
    (0.287, 5.10), (0.283, 4.62), (0.293, 3.41), (0.283, 3.84), (0.273, 4.00), (0.274, 2.63), (0.272, 2.75),
    (0.264, 2.92), (0.255, 2.43), (0.239, 2.09), (0.221, 1.91), (0.220, 2.14), (0.170, 2.11), (0.155, 2.21),
    (0.147, 2.32), (0.136, 2.24), (0.136, 1.75), (0.147, 1.77), (0.140, 2.60), (0.125, 2.50), (0.107, 2.58),
    (0.098, 2.60), (0.072, 2.32), (0.072, 2.47), (0.057, 2.58), (0.037, 2.77), (0.046, 2.77),
    (0.433, 5.40), (0.435, 4.57), (0.412, 4.49), (0.427, 4.46), (0.427, 4.38), (0.445, 4.42), (0.461, 4.33),
    (0.475, 4.36), (0.488, 4.44), (0.508, 4.42), (0.511, 4.25), (0.382, 4.22), (0.422, 4.10), (0.430, 4.22),
    (0.438, 3.93), (0.454, 3.90), (0.479, 3.93), (0.401, 3.77), (0.427, 3.69), (0.448, 3.63), (0.458, 3.67),
    (0.413, 3.52), (0.479, 3.36), (0.495, 3.20), (0.417, 3.15), (0.406, 2.96), (0.525, 3.58), (0.550, 4.99),
    (0.558, 4.55), (0.568, 3.28), (0.538, 2.65), (0.598, 4.23), (0.606, 5.42), (0.605, 3.79), (0.615, 3.48),
    (0.626, 4.86), (0.630, 4.86), (0.627, 4.27), (0.644, 4.51), (0.654, 5.03), (0.652, 4.10), (0.661, 4.05),
    (0.678, 4.73), (0.680, 4.27), (0.677, 3.26), (0.686, 3.63), (0.689, 3.75), (0.707, 4.55), (0.733, 4.59),
    (0.737, 4.03), (0.747, 3.73), (0.755, 3.63), (0.763, 4.72), (0.749, 2.52), (0.798, 4.82), (0.806, 3.62),
    (0.806, 3.73), (0.820, 4.38), (0.832, 3.25), (0.846, 5.51), (0.842, 4.76), (0.856, 4.74), (0.848, 3.23),
    # nucleo denso
    (0.031, 5.26), (0.068, 5.22), (0.102, 5.28), (0.138, 5.23), (0.171, 5.27), (0.203, 5.21), (0.242, 5.25),
    (0.016, 5.13), (0.046, 5.10), (0.079, 5.15), (0.108, 5.09), (0.131, 5.14), (0.162, 5.11), (0.189, 5.15),
    (0.221, 5.09), (0.262, 5.13),
    (0.024, 4.99), (0.051, 4.96), (0.071, 5.01), (0.094, 4.95), (0.121, 5.00), (0.146, 4.97), (0.169, 5.01),
    (0.196, 4.95), (0.224, 4.99), (0.251, 4.96),
    (0.012, 4.85), (0.036, 4.82), (0.059, 4.87), (0.084, 4.81), (0.106, 4.86), (0.129, 4.83), (0.156, 4.87),
    (0.179, 4.81), (0.206, 4.85), (0.231, 4.82), (0.264, 4.86),
    (0.021, 4.71), (0.044, 4.68), (0.069, 4.73), (0.091, 4.67), (0.114, 4.72), (0.141, 4.69), (0.164, 4.73),
    (0.191, 4.67), (0.214, 4.71), (0.241, 4.68),
    (0.011, 4.57), (0.031, 4.54), (0.054, 4.59), (0.079, 4.53), (0.101, 4.58), (0.124, 4.55), (0.151, 4.59),
    (0.174, 4.53), (0.201, 4.57), (0.224, 4.54), (0.256, 4.58),
    (0.021, 4.43), (0.041, 4.40), (0.064, 4.45), (0.089, 4.39), (0.111, 4.44), (0.134, 4.41), (0.161, 4.45),
    (0.184, 4.39), (0.209, 4.43), (0.236, 4.40), (0.268, 4.44),
    (0.012, 4.29), (0.034, 4.26), (0.056, 4.31), (0.079, 4.25), (0.099, 4.30), (0.121, 4.27), (0.146, 4.31),
    (0.169, 4.25), (0.194, 4.29), (0.219, 4.26), (0.249, 4.30),
    (0.024, 4.15), (0.046, 4.12), (0.069, 4.17), (0.091, 4.11), (0.114, 4.16), (0.139, 4.13), (0.166, 4.17),
    (0.189, 4.11), (0.216, 4.15), (0.241, 4.12), (0.266, 4.16),
    (0.016, 4.01), (0.036, 3.98), (0.059, 4.03), (0.081, 3.97), (0.104, 4.02), (0.131, 3.99), (0.154, 4.03),
    (0.181, 3.97), (0.204, 4.01), (0.231, 3.98), (0.259, 4.02),
    (0.021, 3.87), (0.044, 3.84), (0.069, 3.89), (0.091, 3.83), (0.116, 3.88), (0.139, 3.85), (0.166, 3.89),
    (0.189, 3.83), (0.216, 3.87), (0.246, 3.84),
    (0.011, 3.73), (0.031, 3.70), (0.056, 3.75), (0.076, 3.69), (0.101, 3.74), (0.124, 3.71), (0.151, 3.75),
    (0.174, 3.69), (0.199, 3.73), (0.226, 3.70), (0.254, 3.74),
    (0.021, 3.59), (0.041, 3.56), (0.064, 3.61), (0.089, 3.55), (0.111, 3.60), (0.136, 3.57), (0.159, 3.61),
    (0.186, 3.55), (0.209, 3.59), (0.236, 3.56), (0.264, 3.60),
    (0.012, 3.45), (0.036, 3.42), (0.054, 3.47), (0.081, 3.41), (0.099, 3.46), (0.121, 3.43), (0.144, 3.47),
    (0.171, 3.41), (0.194, 3.45), (0.221, 3.42), (0.249, 3.46),
    (0.026, 3.31), (0.046, 3.28), (0.069, 3.33), (0.091, 3.27), (0.114, 3.32), (0.141, 3.29), (0.164, 3.33),
    (0.191, 3.27), (0.214, 3.31), (0.239, 3.28),
    (0.016, 3.17), (0.036, 3.14), (0.061, 3.19), (0.086, 3.13), (0.104, 3.18), (0.131, 3.15), (0.154, 3.19),
    (0.181, 3.13), (0.206, 3.17), (0.229, 3.14),
    (0.021, 3.03), (0.046, 3.00), (0.071, 3.05), (0.096, 2.99), (0.119, 3.04), (0.146, 3.01), (0.169, 3.05),
    (0.196, 2.99), (0.221, 3.03), (0.251, 3.00),
    (0.031, 2.89), (0.061, 2.86), (0.084, 2.91), (0.111, 2.85), (0.139, 2.90), (0.166, 2.87), (0.191, 2.91),
    (0.216, 2.85),
    (0.026, 2.75), (0.051, 2.72), (0.081, 2.77), (0.109, 2.71), (0.136, 2.76), (0.166, 2.73), (0.199, 2.77),
    (0.061, 2.61), (0.099, 2.58), (0.131, 2.63), (0.181, 2.59),
    (0.028, 4.78), (0.052, 4.76), (0.077, 4.79), (0.100, 4.75), (0.125, 4.78), (0.150, 4.76), (0.175, 4.79),
    (0.198, 4.75),
    (0.026, 4.50), (0.050, 4.48), (0.075, 4.51), (0.098, 4.47), (0.122, 4.50), (0.147, 4.48), (0.172, 4.51),
    (0.196, 4.47),
    (0.028, 4.22), (0.052, 4.20), (0.077, 4.23), (0.100, 4.19), (0.125, 4.22), (0.150, 4.20), (0.175, 4.23),
    (0.198, 4.19),
    (0.026, 3.94), (0.050, 3.92), (0.075, 3.95), (0.098, 3.91), (0.122, 3.94), (0.147, 3.92), (0.172, 3.95),
    (0.196, 3.91),
    (0.028, 3.66), (0.052, 3.64), (0.077, 3.67), (0.100, 3.63), (0.125, 3.66), (0.150, 3.64), (0.175, 3.67),
    (0.198, 3.63),
    (0.026, 3.38), (0.050, 3.36), (0.075, 3.39), (0.098, 3.35), (0.122, 3.38), (0.147, 3.36), (0.172, 3.39),
]

aymara_extra = [
    (0.018, 4.92), (0.040, 4.90), (0.063, 4.93), (0.087, 4.89), (0.110, 4.92), (0.135, 4.90), (0.158, 4.93),
    (0.183, 4.89), (0.207, 4.92), (0.232, 4.90),
    (0.029, 4.64), (0.051, 4.62), (0.074, 4.65), (0.098, 4.61), (0.121, 4.64), (0.146, 4.62), (0.169, 4.65),
    (0.194, 4.61), (0.218, 4.64), (0.243, 4.62),
    (0.018, 4.36), (0.040, 4.34), (0.063, 4.37), (0.087, 4.33), (0.110, 4.36), (0.135, 4.34), (0.158, 4.37),
    (0.183, 4.33), (0.207, 4.36), (0.232, 4.34),
    (0.029, 4.08), (0.051, 4.06), (0.074, 4.09), (0.098, 4.05), (0.121, 4.08), (0.146, 4.06), (0.169, 4.09),
    (0.194, 4.05), (0.218, 4.08), (0.243, 4.06),
    (0.018, 3.80), (0.040, 3.78), (0.063, 3.81), (0.087, 3.77), (0.110, 3.80), (0.135, 3.78), (0.158, 3.81),
    (0.183, 3.77), (0.207, 3.80), (0.232, 3.78),
    (0.029, 3.52), (0.051, 3.50), (0.074, 3.53), (0.098, 3.49), (0.121, 3.52), (0.146, 3.50), (0.169, 3.53),
    (0.194, 3.49), (0.218, 3.52), (0.243, 3.50),
    (0.018, 3.24), (0.040, 3.22), (0.063, 3.25), (0.087, 3.21), (0.110, 3.24), (0.135, 3.22), (0.158, 3.25),
    (0.183, 3.21), (0.207, 3.24),
    (0.026, 3.10), (0.050, 3.08), (0.075, 3.11), (0.100, 3.07), (0.125, 3.10), (0.150, 3.08), (0.175, 3.11),
    (0.200, 3.07),
    (0.033, 5.06), (0.060, 5.04), (0.088, 5.07), (0.115, 5.03), (0.142, 5.06), (0.170, 5.04), (0.200, 5.07),
]

aymara_centro = [
    (0.020, 4.94), (0.045, 4.93), (0.068, 4.95), (0.092, 4.93), (0.116, 4.94), (0.140, 4.92), (0.164, 4.95),
    (0.188, 4.93), (0.212, 4.94),
    (0.033, 4.80), (0.057, 4.79), (0.080, 4.81), (0.104, 4.79), (0.128, 4.80), (0.152, 4.78), (0.176, 4.81),
    (0.200, 4.79),
    (0.020, 4.66), (0.045, 4.65), (0.068, 4.67), (0.092, 4.65), (0.116, 4.66), (0.140, 4.64), (0.164, 4.67),
    (0.188, 4.65), (0.212, 4.66),
    (0.033, 4.52), (0.057, 4.51), (0.080, 4.53), (0.104, 4.51), (0.128, 4.52), (0.152, 4.50), (0.176, 4.53),
    (0.200, 4.51),
    (0.020, 4.38), (0.045, 4.37), (0.068, 4.39), (0.092, 4.37), (0.116, 4.38), (0.140, 4.36), (0.164, 4.39),
    (0.188, 4.37), (0.212, 4.38),
    (0.033, 4.24), (0.057, 4.23), (0.080, 4.25), (0.104, 4.23), (0.128, 4.24), (0.152, 4.22), (0.176, 4.25),
    (0.200, 4.23),
    (0.020, 4.10), (0.045, 4.09), (0.068, 4.11), (0.092, 4.09), (0.116, 4.10), (0.140, 4.08), (0.164, 4.11),
    (0.188, 4.09), (0.212, 4.10),
    (0.033, 3.96), (0.057, 3.95), (0.080, 3.97), (0.104, 3.95), (0.128, 3.96), (0.152, 3.94), (0.176, 3.97),
    (0.200, 3.95),
    (0.020, 3.82), (0.045, 3.81), (0.068, 3.83), (0.092, 3.81), (0.116, 3.82), (0.140, 3.80), (0.164, 3.83),
    (0.188, 3.81), (0.212, 3.82),
    (0.033, 3.68), (0.057, 3.67), (0.080, 3.69), (0.104, 3.67), (0.128, 3.68), (0.152, 3.66), (0.176, 3.69),
    (0.200, 3.67),
    (0.020, 3.54), (0.045, 3.53), (0.068, 3.55), (0.092, 3.53), (0.116, 3.54), (0.140, 3.52), (0.164, 3.55),
    (0.188, 3.53), (0.212, 3.54),
    (0.033, 3.40), (0.057, 3.39), (0.080, 3.41), (0.104, 3.39), (0.128, 3.40), (0.152, 3.38), (0.176, 3.41),
    (0.200, 3.39),
    (0.020, 3.26), (0.045, 3.25), (0.068, 3.27), (0.092, 3.25), (0.116, 3.26), (0.140, 3.24), (0.164, 3.27),
    (0.188, 3.25),
    (0.033, 3.12), (0.057, 3.11), (0.080, 3.13), (0.104, 3.11), (0.128, 3.12), (0.152, 3.10), (0.176, 3.13),
]

mapuche_y_en_cero = [
    5.50, 5.14, 4.85, 4.80, 4.74, 4.68, 4.62, 4.55, 4.48, 4.42, 4.36, 4.30, 4.22, 4.15, 4.08, 4.02, 3.96,
    3.90, 3.84, 3.76, 3.70, 3.63, 3.56, 3.50, 3.42, 3.35, 3.27, 3.20, 3.12, 2.90, 2.50,
]

mapuche = [
    (0.013, 5.14), (0.027, 5.91), (0.047, 6.23), (0.038, 5.60), (0.037, 5.49), (0.043, 5.39), (0.033, 5.16),
    (0.064, 5.34), (0.073, 5.32), (0.098, 5.50), (0.100, 5.32), (0.109, 5.02), (0.125, 5.19), (0.135, 5.17),
    (0.148, 5.11), (0.160, 5.03), (0.173, 5.19), (0.184, 5.19), (0.197, 5.55), (0.209, 5.40), (0.219, 5.29),
    (0.228, 5.52), (0.236, 5.32), (0.250, 5.34), (0.259, 5.57), (0.263, 5.45), (0.279, 5.36), (0.288, 5.58),
    (0.302, 5.71), (0.306, 5.63), (0.324, 5.60), (0.334, 5.52), (0.346, 5.79), (0.367, 6.07), (0.379, 5.56),
    (0.392, 5.37), (0.403, 5.45), (0.351, 5.32),
    (0.012, 3.07), (0.034, 3.02), (0.048, 2.46), (0.052, 2.41), (0.052, 2.11), (0.061, 2.64), (0.062, 2.74),
    (0.090, 2.66), (0.101, 2.74), (0.132, 2.13), (0.132, 1.90), (0.137, 2.08), (0.141, 2.50), (0.152, 2.41),
    (0.169, 2.42), (0.178, 2.20), (0.206, 2.14), (0.218, 2.11), (0.209, 1.77), (0.225, 1.59), (0.240, 1.74),
    (0.257, 2.31), (0.257, 2.23), (0.292, 2.29), (0.299, 2.11), (0.303, 2.15), (0.326, 2.11), (0.308, 2.55),
    (0.319, 2.46), (0.374, 2.29), (0.400, 2.13), (0.254, 2.72), (0.244, 2.75), (0.278, 2.68), (0.292, 2.75),
    (0.230, 2.62), (0.211, 2.85), (0.195, 2.78), (0.190, 2.85), (0.179, 2.59), (0.117, 2.85), (0.106, 3.07),
    (0.093, 2.91), (0.077, 2.85), (0.074, 3.01), (0.346, 2.59), (0.356, 2.62), (0.362, 2.81), (0.384, 2.72),
    (0.394, 2.81), (0.351, 2.94), (0.330, 2.88),
    (0.012, 4.17), (0.020, 4.64), (0.023, 3.66), (0.025, 3.53), (0.028, 4.48), (0.032, 3.86), (0.036, 4.38),
    (0.042, 4.12), (0.044, 3.61), (0.047, 3.27), (0.048, 4.64), (0.052, 4.25), (0.056, 3.73), (0.058, 4.83),
    (0.060, 3.92), (0.065, 3.47), (0.066, 4.44), (0.068, 3.04), (0.071, 4.05), (0.074, 4.57), (0.075, 3.66),
    (0.078, 3.34), (0.079, 4.83), (0.082, 4.21), (0.085, 3.82), (0.087, 4.54), (0.090, 3.24), (0.093, 3.53),
    (0.096, 4.05), (0.098, 5.00), (0.101, 4.38), (0.104, 3.79), (0.012, 3.99), (0.017, 3.40), (0.009, 4.31),
    (0.519, 6.30), (0.516, 5.91), (0.448, 5.71), (0.446, 5.62), (0.469, 5.67), (0.524, 5.45), (0.499, 5.42),
    (0.487, 5.08), (0.460, 5.37), (0.436, 5.45), (0.440, 5.41), (0.425, 5.45), (0.411, 5.45), (0.551, 5.37),
    (0.545, 5.19), (0.576, 5.30), (0.560, 5.02), (0.562, 4.83), (0.597, 5.02), (0.638, 5.55), (0.692, 5.14),
    (0.748, 4.88), (0.643, 4.72), (0.649, 4.70), (0.656, 4.65), (0.732, 4.51), (0.739, 4.56), (0.749, 4.54),
    (0.800, 4.46), (0.789, 4.39), (0.779, 4.25), (0.767, 4.02), (0.749, 3.74), (0.821, 3.71), (0.816, 3.60),
    (0.706, 3.45), (0.712, 3.40), (0.683, 3.36), (0.706, 2.83), (0.665, 3.92), (0.667, 3.79), (0.647, 3.87),
    (0.631, 3.92), (0.629, 3.67), (0.635, 3.60), (0.632, 3.09), (0.619, 2.93), (0.603, 3.25), (0.594, 2.94),
    (0.590, 2.88), (0.594, 2.76), (0.616, 3.63), (0.625, 4.36), (0.608, 4.21), (0.610, 4.07), (0.600, 4.36),
    (0.592, 4.36), (0.587, 4.38), (0.580, 4.35), (0.576, 4.52), (0.571, 4.67), (0.579, 4.12), (0.576, 3.92),
    (0.573, 3.76), (0.579, 3.60), (0.576, 3.30), (0.573, 3.28), (0.579, 3.04), (0.592, 2.89), (0.555, 4.07),
    (0.556, 3.92), (0.552, 3.86), (0.553, 3.60), (0.546, 3.60), (0.544, 3.27), (0.534, 3.06), (0.531, 3.02),
    (0.534, 2.68), (0.517, 2.88), (0.519, 3.43), (0.520, 3.76), (0.528, 3.92), (0.525, 4.31), (0.515, 4.21),
    (0.510, 4.35), (0.504, 4.38), (0.535, 4.69), (0.544, 4.31), (0.536, 4.51), (0.517, 4.64), (0.505, 4.72),
    (0.501, 2.26),
    # nucleo denso
    (0.121, 5.23), (0.158, 5.19), (0.198, 5.25), (0.238, 5.20), (0.268, 5.24), (0.302, 5.19), (0.331, 5.23),
    (0.362, 5.20), (0.398, 5.24),
    (0.101, 5.09), (0.136, 5.06), (0.168, 5.11), (0.199, 5.05), (0.224, 5.10), (0.251, 5.07), (0.276, 5.11),
    (0.299, 5.05), (0.326, 5.09), (0.351, 5.06), (0.381, 5.10), (0.421, 5.06),
    (0.091, 4.95), (0.121, 4.92), (0.149, 4.97), (0.176, 4.91), (0.199, 4.96), (0.219, 4.93), (0.241, 4.97),
    (0.259, 4.91), (0.281, 4.95), (0.299, 4.92), (0.321, 4.96), (0.339, 4.93), (0.361, 4.97), (0.386, 4.91),
    (0.411, 4.95), (0.449, 4.92),
    (0.081, 4.81), (0.109, 4.78), (0.136, 4.83), (0.159, 4.77), (0.181, 4.82), (0.199, 4.79), (0.221, 4.83),
    (0.239, 4.77), (0.261, 4.81), (0.279, 4.78), (0.301, 4.83), (0.319, 4.77), (0.341, 4.81), (0.359, 4.78),
    (0.381, 4.82), (0.401, 4.78), (0.431, 4.81), (0.469, 4.78),
    (0.099, 4.67), (0.126, 4.64), (0.149, 4.69), (0.171, 4.63), (0.189, 4.68), (0.211, 4.65), (0.229, 4.69),
    (0.251, 4.63), (0.269, 4.67), (0.291, 4.64), (0.309, 4.69), (0.331, 4.63), (0.349, 4.67), (0.371, 4.64),
    (0.389, 4.68), (0.416, 4.64), (0.439, 4.67), (0.481, 4.64),
    (0.086, 4.53), (0.111, 4.50), (0.134, 4.55), (0.156, 4.49), (0.176, 4.54), (0.194, 4.51), (0.216, 4.55),
    (0.234, 4.49), (0.256, 4.53), (0.274, 4.50), (0.296, 4.55), (0.314, 4.49), (0.336, 4.53), (0.354, 4.50),
    (0.376, 4.54), (0.394, 4.50), (0.421, 4.53), (0.454, 4.50), (0.491, 4.54),
    (0.096, 4.39), (0.121, 4.36), (0.144, 4.41), (0.166, 4.35), (0.184, 4.40), (0.206, 4.37), (0.224, 4.41),
    (0.246, 4.35), (0.264, 4.39), (0.286, 4.36), (0.304, 4.41), (0.326, 4.35), (0.344, 4.39), (0.366, 4.36),
    (0.384, 4.40), (0.411, 4.36), (0.436, 4.39), (0.471, 4.36),
    (0.081, 4.25), (0.106, 4.22), (0.131, 4.27), (0.154, 4.21), (0.176, 4.26), (0.194, 4.23), (0.216, 4.27),
    (0.234, 4.21), (0.256, 4.25), (0.274, 4.22), (0.296, 4.27), (0.314, 4.21), (0.336, 4.25), (0.354, 4.22),
    (0.376, 4.26), (0.401, 4.22), (0.426, 4.25), (0.461, 4.22), (0.499, 4.26),
    (0.091, 4.11), (0.116, 4.08), (0.139, 4.13), (0.164, 4.07), (0.186, 4.12), (0.204, 4.09), (0.226, 4.13),
    (0.244, 4.07), (0.266, 4.11), (0.284, 4.08), (0.306, 4.13), (0.324, 4.07), (0.346, 4.11), (0.364, 4.08),
    (0.386, 4.12), (0.411, 4.08), (0.441, 4.11), (0.476, 4.08),
    (0.086, 3.97), (0.109, 3.94), (0.136, 3.99), (0.154, 3.93), (0.176, 3.98), (0.196, 3.95), (0.214, 3.99),
    (0.236, 3.93), (0.254, 3.97), (0.276, 3.94), (0.294, 3.99), (0.316, 3.93), (0.334, 3.97), (0.356, 3.94),
    (0.374, 3.98), (0.396, 3.94), (0.421, 3.97), (0.451, 3.94), (0.489, 3.98),
    (0.096, 3.83), (0.121, 3.80), (0.144, 3.85), (0.166, 3.79), (0.184, 3.84), (0.206, 3.81), (0.224, 3.85),
    (0.246, 3.79), (0.264, 3.83), (0.286, 3.80), (0.304, 3.85), (0.326, 3.79), (0.344, 3.83), (0.366, 3.80),
    (0.384, 3.84), (0.411, 3.80), (0.436, 3.83), (0.466, 3.80),
    (0.081, 3.69), (0.106, 3.66), (0.131, 3.71), (0.154, 3.65), (0.176, 3.70), (0.194, 3.67), (0.216, 3.71),
    (0.234, 3.65), (0.256, 3.69), (0.274, 3.66), (0.296, 3.71), (0.314, 3.65), (0.336, 3.69), (0.354, 3.66),
    (0.376, 3.70), (0.401, 3.66), (0.426, 3.69), (0.456, 3.66), (0.491, 3.70),
    (0.091, 3.55), (0.116, 3.52), (0.141, 3.57), (0.164, 3.51), (0.186, 3.56), (0.204, 3.53), (0.226, 3.57),
    (0.244, 3.51), (0.266, 3.55), (0.284, 3.52), (0.306, 3.57), (0.324, 3.51), (0.346, 3.55), (0.366, 3.52),
    (0.391, 3.56), (0.416, 3.52), (0.446, 3.55), (0.476, 3.52),
    (0.101, 3.41), (0.126, 3.38), (0.151, 3.43), (0.176, 3.37), (0.196, 3.42), (0.214, 3.39), (0.236, 3.43),
    (0.254, 3.37), (0.276, 3.41), (0.294, 3.38), (0.316, 3.43), (0.334, 3.37), (0.356, 3.41), (0.381, 3.38),
    (0.406, 3.42), (0.436, 3.38), (0.466, 3.41),
    (0.111, 3.27), (0.141, 3.24), (0.166, 3.29), (0.191, 3.23), (0.211, 3.28), (0.231, 3.25), (0.251, 3.29),
    (0.271, 3.23), (0.291, 3.27), (0.311, 3.24), (0.331, 3.29), (0.351, 3.23), (0.376, 3.27), (0.401, 3.24),
    (0.431, 3.28), (0.461, 3.24),
    (0.121, 3.13), (0.151, 3.10), (0.176, 3.15), (0.201, 3.09), (0.221, 3.14), (0.241, 3.11), (0.261, 3.15),
    (0.281, 3.09), (0.301, 3.13), (0.321, 3.10), (0.341, 3.15), (0.366, 3.09), (0.391, 3.13), (0.421, 3.10),
    (0.451, 3.14),
    (0.131, 2.99), (0.161, 2.96), (0.191, 3.01), (0.216, 2.95), (0.241, 3.00), (0.266, 2.97), (0.291, 3.01),
    (0.316, 2.95), (0.341, 2.99), (0.371, 2.96), (0.401, 3.00), (0.441, 2.96),
    (0.151, 2.85), (0.181, 2.82), (0.211, 2.87), (0.241, 2.81), (0.271, 2.86), (0.301, 2.83), (0.331, 2.87),
    (0.361, 2.81), (0.401, 2.85),
    (0.171, 2.71), (0.211, 2.68), (0.251, 2.73), (0.291, 2.67), (0.331, 2.72), (0.371, 2.69),
    (0.190, 4.88), (0.210, 4.86), (0.230, 4.89), (0.250, 4.85), (0.270, 4.88), (0.290, 4.86), (0.310, 4.89),
    (0.330, 4.85), (0.350, 4.88), (0.370, 4.86),
    (0.185, 4.60), (0.205, 4.58), (0.225, 4.61), (0.245, 4.57), (0.265, 4.60), (0.285, 4.58), (0.305, 4.61),
    (0.325, 4.57), (0.345, 4.60), (0.365, 4.58), (0.385, 4.61), (0.405, 4.57),
    (0.190, 4.32), (0.210, 4.30), (0.230, 4.33), (0.250, 4.29), (0.270, 4.32), (0.290, 4.30), (0.310, 4.33),
    (0.330, 4.29), (0.350, 4.32), (0.370, 4.30), (0.390, 4.33), (0.415, 4.29),
    (0.185, 4.04), (0.205, 4.02), (0.225, 4.05), (0.245, 4.01), (0.265, 4.04), (0.285, 4.02), (0.305, 4.05),
    (0.325, 4.01), (0.345, 4.04), (0.365, 4.02), (0.385, 4.05), (0.410, 4.01),
    (0.190, 3.76), (0.210, 3.74), (0.230, 3.77), (0.250, 3.73), (0.270, 3.76), (0.290, 3.74), (0.310, 3.77),
    (0.330, 3.73), (0.350, 3.76), (0.370, 3.74), (0.390, 3.77), (0.415, 3.73),
    (0.195, 3.48), (0.215, 3.46), (0.235, 3.49), (0.255, 3.45), (0.275, 3.48), (0.295, 3.46), (0.315, 3.49),
    (0.335, 3.45), (0.355, 3.48), (0.375, 3.46),
    (0.220, 3.20), (0.245, 3.18), (0.270, 3.21), (0.295, 3.17), (0.320, 3.20), (0.345, 3.18),
]

mapuche_extra = [
    (0.135, 5.02), (0.165, 5.00), (0.190, 5.03), (0.212, 4.99), (0.235, 5.02), (0.260, 5.00), (0.288, 5.03),
    (0.312, 4.99), (0.338, 5.02), (0.365, 5.00), (0.395, 5.03),
    (0.123, 4.74), (0.148, 4.72), (0.170, 4.75), (0.190, 4.71), (0.210, 4.74), (0.230, 4.72), (0.250, 4.75),
    (0.270, 4.71), (0.290, 4.74), (0.310, 4.72), (0.330, 4.75), (0.350, 4.71), (0.370, 4.74), (0.392, 4.72),
    (0.418, 4.75), (0.445, 4.71),
    (0.130, 4.46), (0.155, 4.44), (0.176, 4.47), (0.196, 4.43), (0.216, 4.46), (0.236, 4.44), (0.256, 4.47),
    (0.276, 4.43), (0.296, 4.46), (0.316, 4.44), (0.336, 4.47), (0.356, 4.43), (0.376, 4.46), (0.398, 4.44),
    (0.424, 4.47), (0.452, 4.43),
    (0.120, 4.18), (0.145, 4.16), (0.168, 4.19), (0.188, 4.15), (0.208, 4.18), (0.228, 4.16), (0.248, 4.19),
    (0.268, 4.15), (0.288, 4.18), (0.308, 4.16), (0.328, 4.19), (0.348, 4.15), (0.368, 4.18), (0.390, 4.16),
    (0.416, 4.19), (0.444, 4.15),
    (0.128, 3.90), (0.153, 3.88), (0.175, 3.91), (0.195, 3.87), (0.215, 3.90), (0.235, 3.88), (0.255, 3.91),
    (0.275, 3.87), (0.295, 3.90), (0.315, 3.88), (0.335, 3.91), (0.355, 3.87), (0.375, 3.90), (0.398, 3.88),
    (0.424, 3.91), (0.452, 3.87),
    (0.120, 3.62), (0.145, 3.60), (0.168, 3.63), (0.188, 3.59), (0.208, 3.62), (0.228, 3.60), (0.248, 3.63),
    (0.268, 3.59), (0.288, 3.62), (0.308, 3.60), (0.328, 3.63), (0.348, 3.59), (0.368, 3.62), (0.390, 3.60),
    (0.416, 3.63), (0.444, 3.59),
    (0.135, 3.34), (0.160, 3.32), (0.182, 3.35), (0.203, 3.31), (0.223, 3.34), (0.243, 3.32), (0.263, 3.35),
    (0.283, 3.31), (0.303, 3.34), (0.323, 3.32), (0.343, 3.35), (0.365, 3.31), (0.390, 3.34), (0.418, 3.32),
    (0.145, 3.06), (0.172, 3.04), (0.196, 3.07), (0.218, 3.03), (0.240, 3.06), (0.262, 3.04), (0.284, 3.07),
    (0.306, 3.03), (0.328, 3.06), (0.352, 3.04), (0.380, 3.07), (0.410, 3.03),
    (0.200, 2.92), (0.228, 2.90), (0.255, 2.93), (0.282, 2.89), (0.310, 2.92), (0.340, 2.90), (0.372, 2.93),
]

mapuche_centro = [
    (0.180, 4.94), (0.200, 4.93), (0.220, 4.95), (0.240, 4.93), (0.260, 4.94), (0.280, 4.92), (0.300, 4.95),
    (0.320, 4.93), (0.340, 4.94), (0.360, 4.92), (0.380, 4.95), (0.400, 4.93), (0.420, 4.94),
    (0.170, 4.80), (0.190, 4.79), (0.210, 4.81), (0.230, 4.79), (0.250, 4.80), (0.270, 4.78), (0.290, 4.81),
    (0.310, 4.79), (0.330, 4.80), (0.350, 4.78), (0.370, 4.81), (0.390, 4.79), (0.410, 4.80),
    (0.180, 4.66), (0.200, 4.65), (0.220, 4.67), (0.240, 4.65), (0.260, 4.66), (0.280, 4.64), (0.300, 4.67),
    (0.320, 4.65), (0.340, 4.66), (0.360, 4.64), (0.380, 4.67), (0.400, 4.65), (0.420, 4.66),
    (0.170, 4.52), (0.190, 4.51), (0.210, 4.53), (0.230, 4.51), (0.250, 4.52), (0.270, 4.50), (0.290, 4.53),
    (0.310, 4.51), (0.330, 4.52), (0.350, 4.50), (0.370, 4.53), (0.390, 4.51), (0.410, 4.52),
    (0.180, 4.38), (0.200, 4.37), (0.220, 4.39), (0.240, 4.37), (0.260, 4.38), (0.280, 4.36), (0.300, 4.39),
    (0.320, 4.37), (0.340, 4.38), (0.360, 4.36), (0.380, 4.39), (0.400, 4.37), (0.420, 4.38),
    (0.170, 4.24), (0.190, 4.23), (0.210, 4.25), (0.230, 4.23), (0.250, 4.24), (0.270, 4.22), (0.290, 4.25),
    (0.310, 4.23), (0.330, 4.24), (0.350, 4.22), (0.370, 4.25), (0.390, 4.23), (0.410, 4.24),
    (0.180, 4.10), (0.200, 4.09), (0.220, 4.11), (0.240, 4.09), (0.260, 4.10), (0.280, 4.08), (0.300, 4.11),
    (0.320, 4.09), (0.340, 4.10), (0.360, 4.08), (0.380, 4.11), (0.400, 4.09), (0.420, 4.10),
    (0.170, 3.96), (0.190, 3.95), (0.210, 3.97), (0.230, 3.95), (0.250, 3.96), (0.270, 3.94), (0.290, 3.97),
    (0.310, 3.95), (0.330, 3.96), (0.350, 3.94), (0.370, 3.97), (0.390, 3.95), (0.410, 3.96),
    (0.180, 3.82), (0.200, 3.81), (0.220, 3.83), (0.240, 3.81), (0.260, 3.82), (0.280, 3.80), (0.300, 3.83),
    (0.320, 3.81), (0.340, 3.82), (0.360, 3.80), (0.380, 3.83), (0.400, 3.81), (0.420, 3.82),
    (0.170, 3.68), (0.190, 3.67), (0.210, 3.69), (0.230, 3.67), (0.250, 3.68), (0.270, 3.66), (0.290, 3.69),
    (0.310, 3.67), (0.330, 3.68), (0.350, 3.66), (0.370, 3.69), (0.390, 3.67), (0.410, 3.68),
    (0.180, 3.54), (0.200, 3.53), (0.220, 3.55), (0.240, 3.53), (0.260, 3.54), (0.280, 3.52), (0.300, 3.55),
    (0.320, 3.53), (0.340, 3.54), (0.360, 3.52), (0.380, 3.55), (0.400, 3.53),
    (0.190, 3.40), (0.210, 3.39), (0.230, 3.41), (0.250, 3.39), (0.270, 3.40), (0.290, 3.38), (0.310, 3.41),
    (0.330, 3.39), (0.350, 3.40), (0.370, 3.38), (0.390, 3.41),
    (0.200, 3.26), (0.220, 3.25), (0.240, 3.27), (0.260, 3.25), (0.280, 3.26), (0.300, 3.24), (0.320, 3.27),
    (0.340, 3.25), (0.360, 3.26), (0.380, 3.24),
    (0.230, 3.12), (0.250, 3.11), (0.270, 3.13), (0.290, 3.11), (0.310, 3.12), (0.330, 3.10), (0.350, 3.13),
]

datos = [
    europea + europea_extra + europea_centro,
    amerindia + amerindia_extra + amerindia_centro,
    aymara + aymara_extra + aymara_centro + [(0.0, y) for y in aymara_y_en_cero],
    mapuche + mapuche_extra + mapuche_centro + [(0.0, y) for y in mapuche_y_en_cero],
]

W, H = 1212, 814
cajas = [(57, 72, 605, 380), (654, 72, 1212, 380), (57, 461.7, 605, 758.3), (654, 461.7, 1212, 758.3)]
pos_texto = [(0.848, [0.141, 0.081, 0.030]), (0.850, [0.149, 0.087, 0.030]),
             (0.847, [0.142, 0.077, 0.022]), (0.838, [0.145, 0.080, 0.026])]

fig = plt.figure(figsize=(W / 100, H / 100), dpi=100)

for i in range(4):
    x0, y0, x1, y1 = cajas[i]
    ax = fig.add_axes([x0 / W, 1 - y1 / H, (x1 - x0) / W, (y1 - y0) / H])
    pts = np.array(datos[i])
    ax.scatter(pts[:, 0], pts[:, 1], s=19, c='black', linewidths=0, zorder=2)

    # recta de regresion sobre el rango de x
    xr = np.array([pts[:, 0].min(), pts[:, 0].max()])
    ax.plot(xr, intercepto[i] + pendiente[i] * xr, color='red', lw=1.9,
            linestyle=(0, (4.5, 3.0)), zorder=3)

    ax.set_xlim(xlims[i])
    ax.set_ylim(ylims[i])
    ax.set_xticks(xticks[i], xticklabels[i])
    ax.set_yticks(yticks[i])
    ax.spines['right'].set_color('none')
    ax.spines['top'].set_color('none')
    ax.spines['left'].set_linewidth(0.9)
    ax.spines['bottom'].set_linewidth(0.9)
    ax.tick_params(length=2.6, width=0.8, color='#333333', labelcolor='#4D4D4D',
                   labelsize=10, pad=2.5)
    ax.set_title(titulos[i], fontsize=17, pad=9.6)

    tx, tys = pos_texto[i]
    lineas = [ecuaciones[i], 'R$^2$: ' + r2_txt[i], 'p:' + p_txt[i]]
    for txt, ty in zip(lineas, tys):
        ax.text(tx, ty, txt, transform=ax.transAxes, ha='center', va='baseline',
                fontsize=11, color='black')

fig.text(612 / W, 1 - 28.3 / H, 'Correlación Ancestrías PRS', ha='center', va='baseline', fontsize=17.5)
for yc in [226, 610]:
    fig.text(23 / W, 1 - yc / H, 'Puntaje de Riesgo Poligénico', rotation=90,
             ha='center', va='center', fontsize=12.2, color='black')
for xc in [331, 933]:
    fig.text(xc / W, 1 - 800 / H, 'Proporción de Ancestría', ha='center', va='center',
             fontsize=12.2, color='black')

fig.savefig('out.png', dpi=100)
